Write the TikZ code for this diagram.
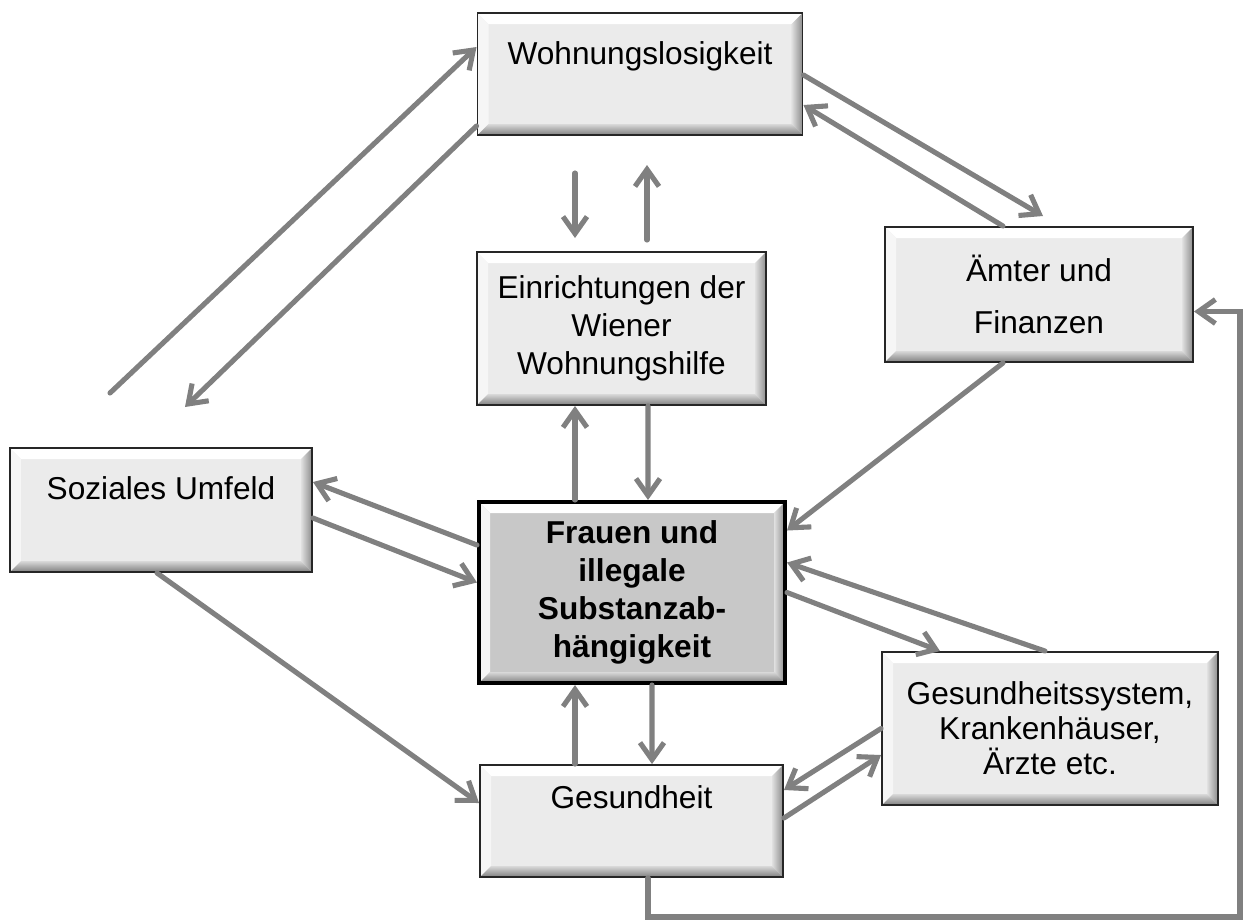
\documentclass[tikz,border=0pt]{standalone}
\usepackage{fontspec}
\setmainfont{Liberation Sans}
\usepackage{tikz}
\usetikzlibrary{calc}
\usetikzlibrary{positioning}
\usetikzlibrary{arrows.meta}

\definecolor{facegray}{RGB}{235,235,235}
\definecolor{facedark}{RGB}{200,200,200}
\definecolor{arrowgray}{RGB}{128,128,128}

\newcommand{\bev}{2.2mm}

\tikzset{
  bevelbox/.style={draw=black!85, line width=1.1pt, fill=facegray, align=center, inner sep=0pt,
    font=\fontsize{18}{21.5}\selectfont,
    path picture={
      \fill[white] (path picture bounding box.north west) -- (path picture bounding box.north east)
        -- ([shift={(-\bev,-\bev)}]path picture bounding box.north east)
        -- ([shift={(\bev,-\bev)}]path picture bounding box.north west) -- cycle;
      \fill[white!55!facegray] (path picture bounding box.north west) -- (path picture bounding box.south west)
        -- ([shift={(\bev,\bev)}]path picture bounding box.south west)
        -- ([shift={(\bev,-\bev)}]path picture bounding box.north west) -- cycle;
      \shade[left color=black!12, right color=black!45] (path picture bounding box.north east) -- (path picture bounding box.south east)
        -- ([shift={(-\bev,\bev)}]path picture bounding box.south east)
        -- ([shift={(-\bev,-\bev)}]path picture bounding box.north east) -- cycle;
      \shade[top color=black!15, bottom color=black!50] (path picture bounding box.south west) -- (path picture bounding box.south east)
        -- ([shift={(-\bev,\bev)}]path picture bounding box.south east)
        -- ([shift={(\bev,\bev)}]path picture bounding box.south west) -- cycle;
    }},
  conn/.style={draw=arrowgray, line width=2.9pt, line cap=round,
    -{Straight Barb[length=3.4mm,width=4.8mm]}}
}

\begin{document}
\begin{tikzpicture}[x=0.2mm, y=-0.2mm]
    \useasboundingbox (0,0) rectangle (1253,920);

    \node[bevelbox, minimum width=65mm, text height=10.2mm, text depth=14.2mm] (wohn) at (640,74) {Wohnungslosigkeit};
    \node[bevelbox, minimum width=57.8mm, minimum height=30.6mm] (einr) at (621.5,328.5) {Einrichtungen der\\Wiener\\Wohnungshilfe};
    \node[bevelbox, minimum width=61.6mm, minimum height=27mm, font=\fontsize{18}{30}\selectfont] (amt) at (1039,294.5) {Ämter und\\Finanzen};
    \node[bevelbox, minimum width=60.4mm, text height=10.2mm, text depth=14.6mm] (soz) at (161,510) {Soziales Umfeld};
    \node[bevelbox, fill=facedark, draw=black, line width=2.3pt, minimum width=61.2mm, minimum height=36.2mm,
      font=\fontsize{18}{21.5}\selectfont\bfseries] (frauen) at (632,592.5) {Frauen und\\illegale\\Substanzab-\\hängigkeit};
    \node[bevelbox, minimum width=67.2mm, minimum height=30.6mm, font=\fontsize{18}{20}\selectfont] (gsys) at (1050,728.5) {Gesundheitssystem,\\Krankenhäuser,\\Ärzte etc.};
    \node[bevelbox, minimum width=60.6mm, text height=8.6mm, text depth=13.8mm] (gesund) at (631.5,821) {Gesundheit};

    \coordinate (sozup) at (110,393);
    \coordinate (sozdown) at (185,407);
    \coordinate (wohnout) at (575,173);
    \coordinate (einrin) at (575,238);
    \coordinate (einrout) at (647,240);
    \coordinate (wohnin) at (647,165);
    \coordinate (amtin) at (1043,216);
    \coordinate (loopcorner) at (1240,917);

    \draw[conn] (sozup) -- ($(wohn.west)+(0,-27)$);
    \draw[conn] ($(wohn.south west)+(0,-10)$) -- (sozdown);
    \draw[conn] (wohnout) -- (einrin);
    \draw[conn] (einrout) -- (wohnin);
    \draw[conn] ($(wohn.east)+(0,1)$) -- (amtin);
    \draw[conn] ($(amt.north)+(-36,0)$) -- ($(wohn.east)+(0,31)$);
    \draw[conn] ($(amt.south)+(-36,0)$) -- ($(frauen.east)+(0,-62)$);
    \draw[conn] ($(frauen.north)+(-57,0)$) -- ($(einr.south)+(-46.5,0)$);
    \draw[conn] ($(einr.south)+(26.5,0)$) -- ($(frauen.north)+(16,0)$);
    \draw[conn] ($(frauen.west)+(0,-47.5)$) -- ($(soz.east)+(0,-28)$);
    \draw[conn] ($(soz.east)+(0,8)$) -- ($(frauen.west)+(0,-10)$);
    \draw[conn] ($(soz.south)+(-4,0)$) -- ($(gesund.west)+(0,-18)$);
    \draw[conn] (frauen.east) -- ($(gsys.north)+(-110,0)$);
    \draw[conn] ($(gsys.north)+(-5,0)$) -- ($(frauen.east)+(0,-30)$);
    \draw[conn] ($(gesund.north)+(-56.5,0)$) -- ($(frauen.south)+(-57,0)$);
    \draw[conn] ($(frauen.south)+(20,0)$) -- ($(gesund.north)+(20.5,0)$);
    \draw[conn] (gsys.west) -- ($(gesund.east)+(0,-31)$);
    \draw[conn] ($(gesund.east)+(0,-3)$) -- ($(gsys.west)+(0,26.5)$);
    \draw[conn] ($(gesund.south)+(16.5,0)$) |- (loopcorner) |- ($(amt.east)+(0,17)$);
\end{tikzpicture}
\end{document}
